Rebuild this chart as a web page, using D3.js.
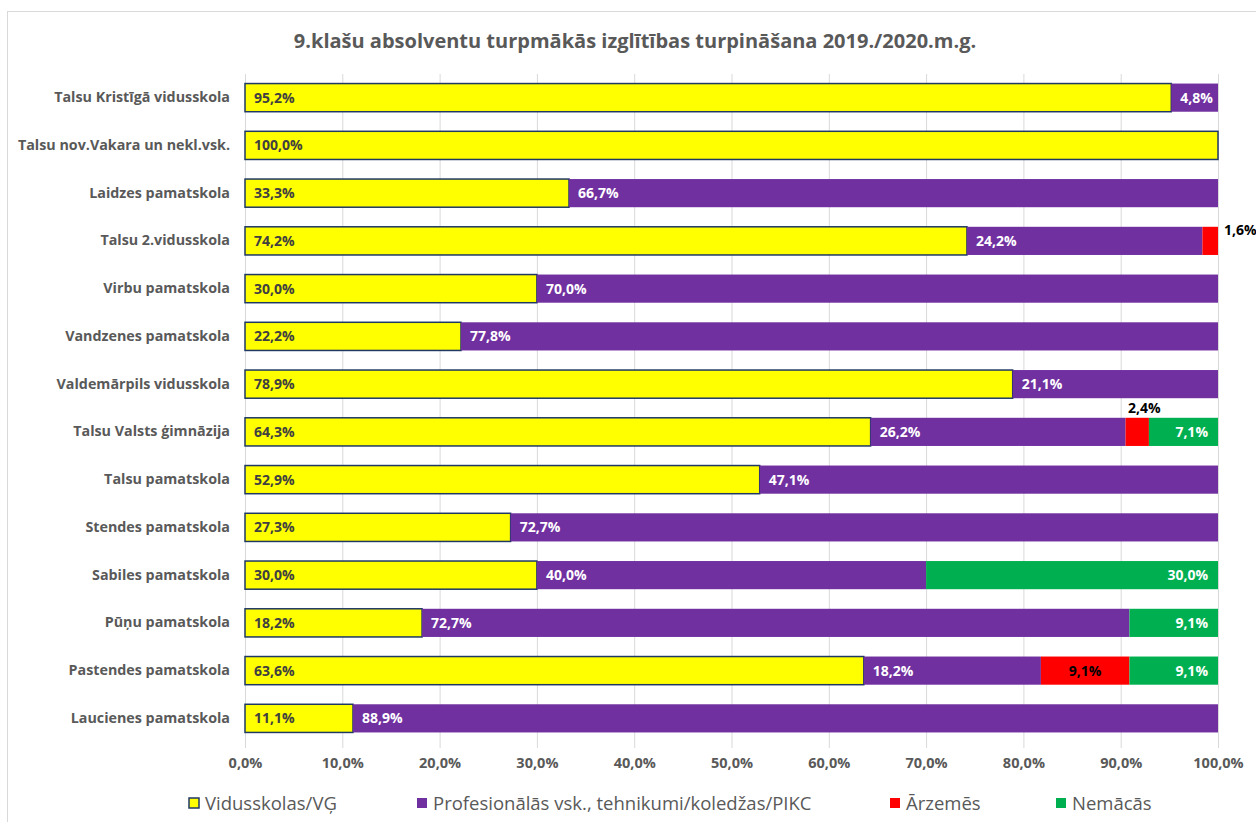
<!DOCTYPE html>
<html>
<head>
<meta charset="utf-8">
<script src="https://cdn.jsdelivr.net/npm/d3@7"></script>
<style>
  body { margin: 0; background: #fff; }
  text { font-family: "Open Sans", sans-serif; }
</style>
</head>
<body>
<div id="chart"></div>
<script>
var schools = ["Talsu Kristīgā vidusskola", "Talsu nov.Vakara un nekl.vsk.", "Laidzes pamatskola",
    "Talsu 2.vidusskola", "Virbu pamatskola", "Vandzenes pamatskola", "Valdemārpils vidusskola",
    "Talsu Valsts ģimnāzija", "Talsu pamatskola", "Stendes pamatskola", "Sabiles pamatskola",
    "Pūņu pamatskola", "Pastendes pamatskola", "Laucienes pamatskola"];
var vidusskolas = [95.2, 100, 33.3, 74.2, 30.0, 22.2, 78.9, 64.3, 52.9, 27.3, 30.0, 18.2, 63.6, 11.1];
var profesionalas = [4.8, 0, 66.7, 24.2, 70.0, 77.8, 21.1, 26.2, 47.1, 72.7, 40.0, 72.7, 18.2, 88.9];
var arzemes = [0, 0, 0, 1.6, 0, 0, 0, 2.4, 0, 0, 0, 0, 9.1, 0];
var nemacas = [0, 0, 0, 0, 0, 0, 0, 7.1, 0, 0, 30.0, 9.1, 9.1, 0];
var seriesNames = ["Vidusskolas/VĢ", "Profesionālās vsk., tehnikumi/koledžas/PIKC", "Ārzemēs", "Nemācās"];
var ticks = [0, 10, 20, 30, 40, 50, 60, 70, 80, 90, 100];

var W = 1256, H = 822;
var fill = ["#FFFF00", "#7030A0", "#FF0000", "#00B050"];
var textCol = ["#404040", "#ffffff", "#000000", "#ffffff"];

var svg = d3.select("#chart").append("svg")
    .attr("width", W).attr("height", H);

svg.append("rect").attr("x", 7.5).attr("y", 11.5).attr("width", W).attr("height", H)
    .attr("fill", "#fff").attr("stroke", "#d9d9d9");

svg.append("text").attr("x", 635).attr("y", 48).attr("text-anchor", "middle")
    .attr("font-size", 20).attr("font-weight", "bold").attr("fill", "#595959")
    .text("9.klašu absolventu turpmākās izglītības turpināšana 2019./2020.m.g.");

var x = d3.scaleLinear().domain([0, 100]).range([245, 1218]);
var y = d3.scaleBand().domain(schools).range([74, 742]).paddingInner(0.41).paddingOuter(0.2);

// gridlines
svg.append("g").selectAll("line").data(ticks).join("line")
    .attr("x1", d => x(d) + 0.5).attr("x2", d => x(d) + 0.5)
    .attr("y1", 74).attr("y2", 748)
    .attr("stroke", "#d9d9d9").attr("stroke-width", 1);

var xAxis = svg.append("g").attr("transform", "translate(0,742)")
    .call(d3.axisBottom(x).tickValues(ticks).tickSize(0).tickPadding(16)
        .tickFormat(d => d.toFixed(1).replace(".", ",") + "%"));
xAxis.select(".domain").remove();
xAxis.selectAll("text").attr("font-size", 14.5).attr("font-weight", "bold").attr("fill", "#595959")
    .style("font-family", "'Open Sans', sans-serif");

var yAxis = svg.append("g").attr("transform", "translate(230,0)")
    .call(d3.axisLeft(y).tickSize(0).tickPadding(0));
yAxis.select(".domain").remove();
yAxis.selectAll("text").attr("font-size", 14.3).attr("font-weight", "bold").attr("fill", "#595959")
    .style("font-family", "'Open Sans', sans-serif");

var rows = schools.map(function (s, i) {
    return { school: s, vals: [vidusskolas[i], profesionalas[i], arzemes[i], nemacas[i]] };
});
var stack = d3.stack().keys([0, 1, 2, 3]).value((d, k) => d.vals[k]);
var layers = stack(rows);

function fmt(v) { return v.toFixed(1).replace(".", ",") + "%"; }

layers.forEach(function (layer, k) {
    var g = svg.append("g");
    var segs = layer.filter(d => d[1] - d[0] > 0);
    g.selectAll("rect").data(segs).join("rect")
        .attr("x", d => x(d[0]))
        .attr("y", d => y(d.data.school))
        .attr("width", d => x(d[1]) - x(d[0]))
        .attr("height", y.bandwidth())
        .attr("fill", fill[k])
        .attr("stroke", k == 0 ? "#1F3864" : "none")
        .attr("stroke-width", k == 0 ? 1.5 : 0);

    g.selectAll("text").data(segs).join("text")
        .each(function (d) {
            var w = x(d[1]) - x(d[0]);
            var top = y(d.data.school), c = top + y.bandwidth() / 2;
            var t = d3.select(this), tx, ty, anchor = "start";
            if (k == 0 || k == 1) { tx = x(d[0]) + 9; ty = c + 5; }
            else if (k == 3) { tx = x(d[1]) - 10; ty = c + 5; anchor = "end"; }
            else if (w < 30 && d[1] >= 99.9) { tx = x(d[1]) + 6; ty = top + 8; }
            else if (w < 30) { tx = (x(d[0]) + x(d[1])) / 2 + 7; ty = top - 5; anchor = "middle"; }
            else { tx = (x(d[0]) + x(d[1])) / 2; ty = c + 5; anchor = "middle"; }
            t.attr("x", tx).attr("y", ty).attr("text-anchor", anchor).attr("fill", textCol[k]);
        })
        .attr("font-size", 14).attr("font-weight", "bold")
        .text(d => fmt(d[1] - d[0]));
});

// legend
var legendX = [189, 417, 890, 1056];
var lg = svg.append("g").selectAll("g").data(seriesNames).join("g")
    .attr("transform", (d, i) => "translate(" + legendX[i] + ",798)");
lg.append("rect").attr("width", 10).attr("height", 10)
    .attr("fill", (d, i) => fill[i])
    .attr("stroke", (d, i) => i == 0 ? "#1F3864" : "none").attr("stroke-width", 1.5);
lg.append("text").attr("x", 16).attr("y", 11.5).attr("font-size", 18.5).attr("fill", "#595959")
    .text(d => d);
</script>
</body>
</html>
